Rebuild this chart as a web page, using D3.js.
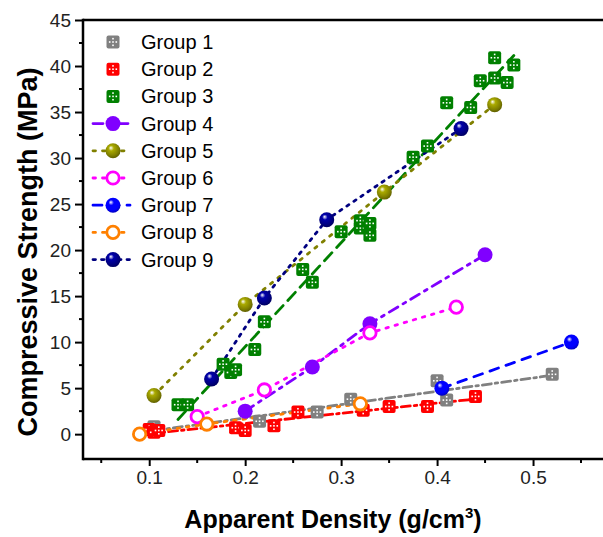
<!DOCTYPE html>
<html>
<head>
<meta charset="utf-8">
<script src="https://cdn.jsdelivr.net/npm/d3@7"></script>
<style>
  body { margin: 0; background: #fff; }
  text { font-family: "Liberation Sans", Arial, sans-serif; }
</style>
</head>
<body>
<svg id="chart" width="603" height="537"></svg>
<script>
// data: [density, strength]
var group1 = [[0.105,0.8],[0.215,1.4],[0.275,2.4],[0.31,3.8],[0.40,5.8],[0.41,3.7],[0.52,6.5]];
var group2 = [[0.10,0.5],[0.105,0.2],[0.11,0.4],[0.19,0.7],[0.20,0.4],[0.23,0.9],[0.255,2.4],[0.323,2.6],[0.35,3.0],[0.39,3.0],[0.44,4.1]];
var group3 = [[0.13,3.2],[0.14,3.2],[0.177,7.6],[0.185,6.7],[0.19,7.0],[0.21,9.2],[0.22,12.2],[0.26,17.9],[0.27,16.5],
              [0.30,22.0],[0.32,22.4],[0.32,23.2],[0.33,22.9],[0.33,21.6],[0.375,30.1],[0.39,31.3],[0.41,36.0],
              [0.435,35.5],[0.445,38.4],[0.46,40.9],[0.46,38.7],[0.473,38.2],[0.48,40.1]];
var group4 = [[0.20,2.5],[0.27,7.3],[0.33,12.0],[0.45,19.5]];
var group5 = [[0.105,4.2],[0.20,14.1],[0.345,26.3],[0.46,35.8]];
var group6 = [[0.15,1.9],[0.22,4.8],[0.33,11.0],[0.42,13.8]];
var group7 = [[0.405,5.0],[0.54,10.0]];
var group8 = [[0.09,0.0],[0.16,1.1],[0.32,3.3]];
var group9 = [[0.165,6.0],[0.22,14.8],[0.285,23.3],[0.425,33.2]];

var groupNames = ["Group 1","Group 2","Group 3","Group 4","Group 5","Group 6","Group 7","Group 8","Group 9"];
var xTicks = [0.1, 0.2, 0.3, 0.4, 0.5];
var xMinor = [0.05, 0.15, 0.25, 0.35, 0.45, 0.55];
var yTicks = [0, 5, 10, 15, 20, 25, 30, 35, 40, 45];
var yMinor = [2.5, 7.5, 12.5, 17.5, 22.5, 27.5, 32.5, 37.5, 42.5];

// styles for each series
var series = [
  {name: groupNames[0], pts: group1, color: "#808080", mark: "square", fit: true,  dash: "9,4,2.5,4"},
  {name: groupNames[1], pts: group2, color: "#ff0000", mark: "square", fit: true,  dash: "9,4,2.5,4"},
  {name: groupNames[2], pts: group3, color: "#008000", mark: "square", fit: true,  dash: "11,7"},
  {name: groupNames[3], pts: group4, color: "#8000ff", mark: "dot",    fit: false, dash: "10,6,3,6"},
  {name: groupNames[4], pts: group5, color: "#808000", mark: "ball",   fit: false, dash: "2.5,7"},
  {name: groupNames[5], pts: group6, color: "#ff00ff", mark: "ring",   fit: false, dash: "2.5,7"},
  {name: groupNames[6], pts: group7, color: "#0000ff", mark: "ball",   fit: false, dash: "9,8"},
  {name: groupNames[7], pts: group8, color: "#ff8000", mark: "ring",   fit: false, dash: "2.5,7"},
  {name: groupNames[8], pts: group9, color: "#000080", mark: "ball",   fit: false, dash: "2.5,6"}
];

var svg = d3.select("#chart");
var margin = {top: 20, left: 83};
var width = 546, height = 439;

var x = d3.scaleLinear().domain([0.031, 0.6]).range([margin.left, margin.left + width]);
var y = d3.scaleLinear().domain([-2.7, 45]).range([margin.top + height, margin.top]);

// gradients for the shaded balls
var defs = svg.append("defs");
series.forEach(function(s, i) {
  if (s.mark != "ball") return;
  var gr = defs.append("radialGradient").attr("id", "ball" + i)
    .attr("cx", "45%").attr("cy", "40%").attr("r", "60%")
    .attr("fx", "35%").attr("fy", "30%");
  gr.append("stop").attr("offset", "0%").attr("stop-color", "#ffffff");
  gr.append("stop").attr("offset", "30%").attr("stop-color", d3.color(s.color).brighter(0.8));
  gr.append("stop").attr("offset", "75%").attr("stop-color", s.color);
  gr.append("stop").attr("offset", "100%").attr("stop-color", d3.color(s.color).darker(0.8));
});

// axes
var axisW = 2.5;
svg.append("line").attr("x1", margin.left).attr("x2", 603).attr("y1", margin.top).attr("y2", margin.top)
  .attr("stroke", "#000").attr("stroke-width", axisW);

var gx = svg.append("g").attr("transform", "translate(0," + (margin.top + height) + ")");
gx.call(d3.axisBottom(x).tickValues(xTicks).tickSize(7).tickPadding(5).tickFormat(d3.format(".1f")));
gx.selectAll(".minor").data(xMinor).enter().append("line")
  .attr("x1", function(d) { return x(d); }).attr("x2", function(d) { return x(d); })
  .attr("y1", 0).attr("y2", 4).attr("stroke", "#000").attr("stroke-width", 2);

var gy = svg.append("g").attr("transform", "translate(" + margin.left + ",0)");
gy.call(d3.axisLeft(y).tickValues(yTicks).tickSize(8).tickPadding(4));
gy.selectAll(".minor").data(yMinor).enter().append("line")
  .attr("y1", function(d) { return y(d); }).attr("y2", function(d) { return y(d); })
  .attr("x1", 0).attr("x2", -4).attr("stroke", "#000").attr("stroke-width", 2);

[gx, gy].forEach(function(g) {
  g.select(".domain").attr("stroke-width", axisW).attr("d", null);
  g.selectAll(".tick line").attr("stroke-width", 2);
  g.selectAll(".tick text").style("font-size", "19px").attr("fill", "#222");
});
svg.append("line").attr("x1", margin.left).attr("x2", 603)
  .attr("y1", margin.top + height).attr("y2", margin.top + height)
  .attr("stroke", "#000").attr("stroke-width", axisW);
svg.append("line").attr("x1", margin.left).attr("x2", margin.left)
  .attr("y1", margin.top - 1.2).attr("y2", margin.top + height + 1.2)
  .attr("stroke", "#000").attr("stroke-width", axisW);

// titles
svg.append("text").attr("transform", "translate(37,252) rotate(-90)")
  .attr("text-anchor", "middle").style("font-size", "27px").style("font-weight", "bold")
  .text("Compressive Strength (MPa)");
var xt = svg.append("text").attr("x", 333).attr("y", 528).attr("text-anchor", "middle")
  .style("font-size", "25px").style("font-weight", "bold");
xt.append("tspan").text("Apparent Density (g/cm");
xt.append("tspan").attr("dy", -10).style("font-size", "15px").text("3");
xt.append("tspan").attr("dy", 10).text(")");

// lines
var line = d3.line().x(function(d) { return x(d[0]); }).y(function(d) { return y(d[1]); });

function fitLine(pts) {
  var mx = d3.mean(pts, function(p) { return p[0]; });
  var my = d3.mean(pts, function(p) { return p[1]; });
  var sxy = d3.sum(pts, function(p) { return (p[0] - mx) * (p[1] - my); });
  var sxx = d3.sum(pts, function(p) { return (p[0] - mx) * (p[0] - mx); });
  var b = sxy / sxx, a = my - b * mx;
  var ext = d3.extent(pts, function(p) { return p[0]; });
  return [[ext[0], a + b * ext[0]], [ext[1], a + b * ext[1]]];
}

series.forEach(function(s) {
  var path = s.fit ? fitLine(s.pts) : s.pts.slice().sort(function(a, b) { return a[0] - b[0]; });
  svg.append("path").attr("d", line(path))
    .attr("fill", "none").attr("stroke", s.color).attr("stroke-width", 2.8)
    .attr("stroke-dasharray", s.dash).attr("stroke-linecap", "round");
});

function drawMark(g, s, i, cx, cy) {
  if (s.mark == "square") {
    g.append("rect").attr("x", cx - 6.5).attr("y", cy - 6.5).attr("width", 13).attr("height", 13)
      .attr("rx", 2).attr("fill", s.color);
    [[0,-3.3],[-3.3,0],[3.3,0],[0,3.3],[0,0]].forEach(function(o) {
      g.append("rect").attr("x", cx + o[0] - 0.8).attr("y", cy + o[1] - 0.8)
        .attr("width", 1.6).attr("height", 1.6).attr("fill", "#fff");
    });
  } else if (s.mark == "dot") {
    g.append("circle").attr("cx", cx).attr("cy", cy).attr("r", 7.5).attr("fill", s.color);
  } else if (s.mark == "ring") {
    g.append("circle").attr("cx", cx).attr("cy", cy).attr("r", 6.2)
      .attr("fill", "#fff").attr("stroke", s.color).attr("stroke-width", 2.8);
  } else {
    g.append("circle").attr("cx", cx).attr("cy", cy).attr("r", 7.5).attr("fill", "url(#ball" + i + ")");
  }
}

series.forEach(function(s, i) {
  var g = svg.append("g");
  s.pts.forEach(function(p) { drawMark(g, s, i, x(p[0]), y(p[1])); });
});

// legend
var legend = svg.append("g");
series.forEach(function(s, i) {
  var ly = 42 + i * 27.2;
  var g = legend.append("g");
  if (!s.fit) {
    g.append("line").attr("x1", 93).attr("x2", 130).attr("y1", ly).attr("y2", ly)
      .attr("stroke", s.color).attr("stroke-width", 2.8).attr("stroke-dasharray", s.dash)
      .attr("stroke-linecap", "round");
  }
  drawMark(g, s, i, 113, ly);
  g.append("text").attr("x", 141).attr("y", ly + 7).style("font-size", "20px").text(s.name);
});
</script>
</body>
</html>
